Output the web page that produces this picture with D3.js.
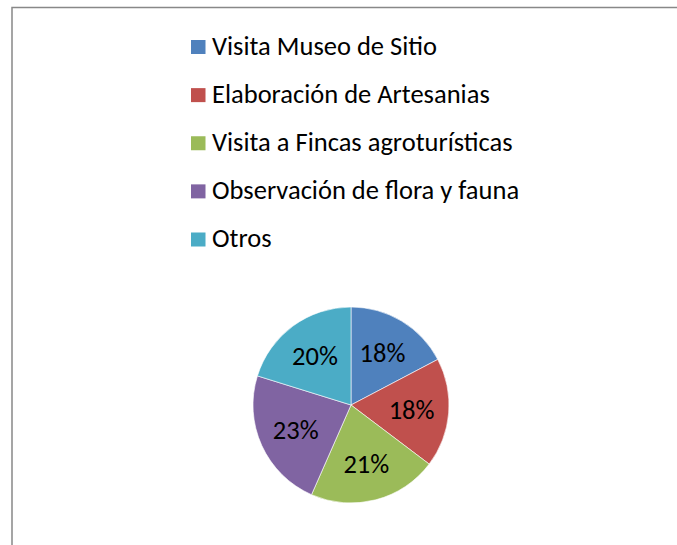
<!DOCTYPE html>
<html>
<head>
<meta charset="utf-8">
<script src="https://cdn.jsdelivr.net/npm/d3@7"></script>
<style>
  body { margin: 0; background: #fff; }
  text { font-family: Calibri, Carlito, "Liberation Sans", sans-serif; }
</style>
</head>
<body>
<svg id="pieChart"></svg>
<script>
// Dimensions
const width = 677;
const height = 545;

// Data
const categories = [
    "Visita Museo de Sitio",
    "Elaboración de Artesanias",
    "Visita a Fincas agroturísticas",
    "Observación de flora y fauna",
    "Otros"
];
const values = [17.3, 18.0, 21.3, 23.2, 20.2];
const labels = ["18%", "18%", "21%", "23%", "20%"];
const colors = ["#4F81BD", "#C0504D", "#9BBB59", "#8064A2", "#4BACC6"];

const svg = d3.select("#pieChart")
    .attr("width", width)
    .attr("height", height);

// frame (only top + left visible)
svg.append("path")
    .attr("d", `M12,${height} L12,7.5 L${width},7.5`)
    .attr("fill", "none")
    .attr("stroke", "#888")
    .attr("stroke-width", 1.5);

const color = d3.scaleOrdinal()
    .domain(categories)
    .range(colors);

// Legend
const legendY = d3.scalePoint()
    .domain(categories)
    .range([40, 232.5]);

const legend = svg.append("g")
    .selectAll("g")
    .data(categories)
    .join("g")
    .attr("transform", d => `translate(191,${legendY(d)})`);

legend.append("rect")
    .attr("width", 14.5)
    .attr("height", 14)
    .attr("fill", d => color(d));

legend.append("text")
    .attr("x", 21)
    .attr("y", 14.5)
    .attr("font-size", 26.5)
    .attr("fill", "#000")
    .text(d => d);

// Pie
const cx = 351, cy = 405, r = 98;

const pie = d3.pie().sort(null).value(d => d.value);
const arcs = pie(categories.map((c, i) => ({ cat: c, value: values[i], label: labels[i] })));

const arc = d3.arc().innerRadius(0).outerRadius(r);
const labelArc = d3.arc().innerRadius(r * 0.62).outerRadius(r * 0.62);

const g = svg.append("g").attr("transform", `translate(${cx},${cy})`);

g.selectAll("path")
    .data(arcs)
    .join("path")
    .attr("d", arc)
    .attr("fill", d => color(d.data.cat))
    .attr("stroke", "#fff")
    .attr("stroke-width", 0.6);

g.selectAll("text")
    .data(arcs)
    .join("text")
    .attr("transform", d => `translate(${labelArc.centroid(d)})`)
    .attr("text-anchor", "middle")
    .attr("dy", "0.35em")
    .attr("font-size", 26.5)
    .attr("fill", "#000")
    .text(d => d.data.label);
</script>
</body>
</html>
